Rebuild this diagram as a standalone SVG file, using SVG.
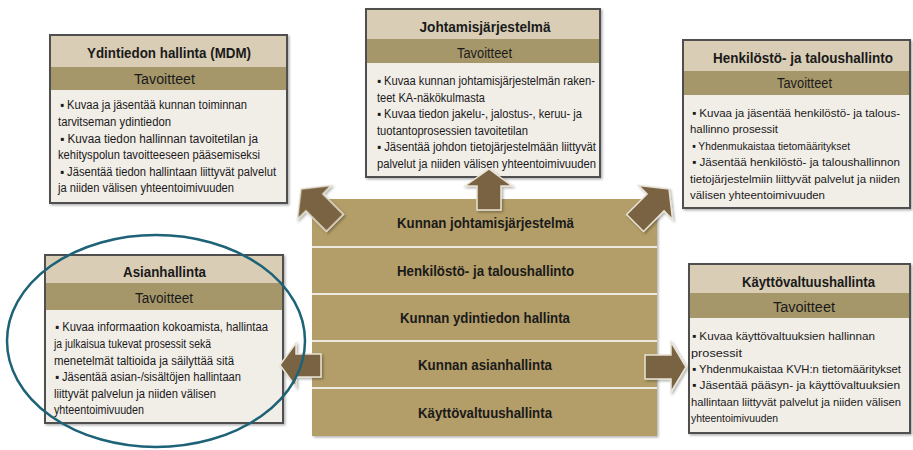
<svg xmlns="http://www.w3.org/2000/svg" width="913" height="450" viewBox="0 0 913 450">
<defs>
<filter id="sh" x="-10%" y="-10%" width="130%" height="130%"><feDropShadow dx="1.5" dy="1.5" stdDeviation="1.2" flood-color="#000" flood-opacity="0.3"/></filter>
<style>
text{font-family:"Liberation Sans Narrow","Liberation Sans",Arial,sans-serif;fill:#1a1a1a}
.ttl{font-size:15px;font-weight:bold;text-anchor:middle}
.tav{font-size:14px;text-anchor:middle}
.b{font-size:12.3px}
.bs{font-size:11.6px}
.row{font-size:15.5px;font-weight:bold;text-anchor:middle}
.frame{fill:#F1EDE7;stroke:#505050;stroke-width:2}
.hdr{fill:#D9CDB5}
.tbar{fill:#A6976A}
.stk{fill:#B39D68}
.sep{stroke:#EEE9DE;stroke-width:2}
.arr{fill:#7A6342;stroke:#E9E3D6;stroke-width:1.5;stroke-linejoin:miter}
</style>
</defs>
<rect width="913" height="450" fill="#fff"/>

<g id="stack">
<rect class="stk" x="312" y="199" width="345" height="237" filter="url(#sh)"/>
<line class="sep" x1="312" y1="247" x2="657" y2="247"/>
<line class="sep" x1="312" y1="294" x2="657" y2="294"/>
<line class="sep" x1="312" y1="341" x2="657" y2="341"/>
<line class="sep" x1="312" y1="388" x2="657" y2="388"/>
<text class="row" x="485.5" y="228" textLength="177" lengthAdjust="spacingAndGlyphs">Kunnan johtamisjärjestelmä</text>
<text class="row" x="485.5" y="276" textLength="177" lengthAdjust="spacingAndGlyphs">Henkilöstö- ja taloushallinto</text>
<text class="row" x="485" y="323" textLength="170" lengthAdjust="spacingAndGlyphs">Kunnan ydintiedon hallinta</text>
<text class="row" x="485" y="370" textLength="134" lengthAdjust="spacingAndGlyphs">Kunnan asianhallinta</text>
<text class="row" x="485" y="418" textLength="134" lengthAdjust="spacingAndGlyphs">Käyttövaltuushallinta</text>
</g>

<g id="box-mdm">
<rect class="frame" x="50" y="35" width="237" height="168" filter="url(#sh)"/>
<rect class="hdr" x="51" y="36" width="235" height="31"/>
<rect class="tbar" x="51" y="67" width="235" height="23"/>
<text class="ttl" x="169" y="58" textLength="164" lengthAdjust="spacingAndGlyphs">Ydintiedon hallinta (MDM)</text>
<text class="tav" x="164.5" y="83.5" textLength="61" lengthAdjust="spacingAndGlyphs">Tavoitteet</text>
<text class="b" x="60" y="109" textLength="187" lengthAdjust="spacingAndGlyphs">▪ Kuvaa ja jäsentää kunnan toiminnan</text>
<text class="b" x="58" y="126" textLength="113" lengthAdjust="spacingAndGlyphs">tarvitseman ydintiedon</text>
<text class="b" x="60" y="142.5" textLength="198" lengthAdjust="spacingAndGlyphs">▪ Kuvaa tiedon hallinnan tavoitetilan ja</text>
<text class="b" x="58" y="159" textLength="202" lengthAdjust="spacingAndGlyphs">kehityspolun tavoitteeseen pääsemiseksi</text>
<text class="b" x="60" y="175.5" textLength="216" lengthAdjust="spacingAndGlyphs">▪ Jäsentää tiedon hallintaan liittyvät palvelut</text>
<text class="b" x="58" y="192" textLength="176" lengthAdjust="spacingAndGlyphs">ja niiden välisen yhteentoimivuuden</text>
</g>

<g id="box-johtamis">
<rect class="frame" x="366" y="9" width="234" height="168" filter="url(#sh)"/>
<rect class="hdr" x="367" y="10" width="232" height="29"/>
<rect class="tbar" x="367" y="39" width="232" height="24"/>
<text class="ttl" x="485" y="32" textLength="131" lengthAdjust="spacingAndGlyphs">Johtamisjärjestelmä</text>
<text class="tav" x="484.5" y="57.5" textLength="55" lengthAdjust="spacingAndGlyphs">Tavoitteet</text>
<text class="b" x="377" y="85" textLength="218" lengthAdjust="spacingAndGlyphs">▪ Kuvaa kunnan johtamisjärjestelmän raken-</text>
<text class="b" x="377" y="101.5" textLength="108" lengthAdjust="spacingAndGlyphs">teet KA-näkökulmasta</text>
<text class="b" x="377" y="118" textLength="205" lengthAdjust="spacingAndGlyphs">▪ Kuvaa tiedon jakelu-, jalostus-, keruu- ja</text>
<text class="b" x="377" y="134.5" textLength="151" lengthAdjust="spacingAndGlyphs">tuotantoprosessien tavoitetilan</text>
<text class="b" x="377" y="151" textLength="219" lengthAdjust="spacingAndGlyphs">▪ Jäsentää johdon tietojärjestelmään liittyvät</text>
<text class="b" x="377" y="167.5" textLength="219" lengthAdjust="spacingAndGlyphs">palvelut ja niiden välisen yhteentoimivuuden</text>
</g>

<g id="box-henkilosto">
<rect class="frame" x="683" y="40" width="227" height="168" filter="url(#sh)"/>
<rect class="hdr" x="684" y="41" width="225" height="30"/>
<rect class="tbar" x="684" y="71" width="225" height="24"/>
<text class="ttl" x="803" y="63" textLength="180" lengthAdjust="spacingAndGlyphs">Henkilöstö- ja taloushallinto</text>
<text class="tav" x="804.5" y="88" textLength="55" lengthAdjust="spacingAndGlyphs">Tavoitteet</text>
<text class="bs" x="692" y="117" textLength="208" lengthAdjust="spacingAndGlyphs">▪ Kuvaa ja jäsentää henkilöstö- ja talous-</text>
<text class="bs" x="690" y="133" textLength="88" lengthAdjust="spacingAndGlyphs">hallinno prosessit</text>
<text class="bs" x="692" y="149.5" textLength="158" lengthAdjust="spacingAndGlyphs">▪ Yhdenmukaistaa tietomääritykset</text>
<text class="bs" x="692" y="166" textLength="208" lengthAdjust="spacingAndGlyphs">▪ Jäsentää henkilöstö- ja taloushallinnon</text>
<text class="bs" x="690" y="182.5" textLength="210" lengthAdjust="spacingAndGlyphs">tietojärjestelmiin liittyvät palvelut ja niiden</text>
<text class="bs" x="690" y="199" textLength="135" lengthAdjust="spacingAndGlyphs">välisen yhteentoimivuuden</text>
</g>

<g id="box-asianhallinta">
<rect class="frame" x="45" y="255" width="238" height="168" filter="url(#sh)"/>
<rect class="hdr" x="46" y="256" width="236" height="27"/>
<rect class="tbar" x="46" y="283" width="236" height="27"/>
<text class="ttl" x="164.5" y="277" textLength="83" lengthAdjust="spacingAndGlyphs">Asianhallinta</text>
<text class="tav" x="164" y="302.5" textLength="58" lengthAdjust="spacingAndGlyphs">Tavoitteet</text>
<text class="b" x="55" y="331" textLength="213" lengthAdjust="spacingAndGlyphs">▪ Kuvaa informaation kokoamista, hallintaa</text>
<text class="b" x="54" y="348" textLength="157" lengthAdjust="spacingAndGlyphs">ja julkaisua tukevat prosessit sekä</text>
<text class="b" x="54" y="364.5" textLength="180" lengthAdjust="spacingAndGlyphs">menetelmät taltioida ja säilyttää sitä</text>
<text class="b" x="55" y="381" textLength="186" lengthAdjust="spacingAndGlyphs">▪ Jäsentää asian-/sisältöjen hallintaan</text>
<text class="b" x="54" y="397.5" textLength="162" lengthAdjust="spacingAndGlyphs">liittyvät palvelun ja niiden välisen</text>
<text class="b" x="54" y="414" textLength="90" lengthAdjust="spacingAndGlyphs">yhteentoimivuuden</text>
</g>

<g id="box-kayttovaltuus">
<rect class="frame" x="689" y="264" width="221" height="169" filter="url(#sh)"/>
<rect class="hdr" x="690" y="265" width="219" height="28"/>
<rect class="tbar" x="690" y="293" width="219" height="25"/>
<text class="ttl" x="808.5" y="287" textLength="133" lengthAdjust="spacingAndGlyphs">Käyttövaltuushallinta</text>
<text class="tav" x="804" y="311.5" textLength="62" lengthAdjust="spacingAndGlyphs">Tavoitteet</text>
<text class="bs" x="692" y="340" textLength="183" lengthAdjust="spacingAndGlyphs">▪ Kuvaa käyttövaltuuksien hallinnan</text>
<text class="bs" x="691" y="356.5" textLength="51" lengthAdjust="spacingAndGlyphs">prosessit</text>
<text class="bs" x="692" y="373" textLength="209" lengthAdjust="spacingAndGlyphs">▪ Yhdenmukaistaa KVH:n tietomääritykset</text>
<text class="bs" x="692" y="389" textLength="208" lengthAdjust="spacingAndGlyphs">▪ Jäsentää pääsyn- ja käyttövaltuuksien</text>
<text class="bs" x="691" y="405.5" textLength="210" lengthAdjust="spacingAndGlyphs">hallintaan liittyvät palvelut ja niiden välisen</text>
<text class="bs" x="691" y="422" textLength="87" lengthAdjust="spacingAndGlyphs">yhteentoimivuuden</text>
</g>

<g id="connectors" filter="url(#sh)">
<path class="arr" d="M489,169 L512,186 L501,186 L501,210 L477,210 L477,186 L465,186 Z"/>
<path class="arr" transform="translate(301,189) rotate(-45)" d="M0,0 L24,19 L12,19 L12,48 L-12,48 L-12,19 L-24,19 Z"/>
<path class="arr" transform="translate(669,189) rotate(45)" d="M0,0 L24,19 L12,19 L12,48 L-12,48 L-12,19 L-24,19 Z"/>
<path class="arr" d="M280,365 L296,343 L296,354 L321,354 L321,377 L296,377 L296,387 Z"/>
<path class="arr" d="M686,367 L671,342 L671,355 L645,355 L645,379 L671,379 L671,392 Z"/>
</g>

<ellipse id="highlight" cx="156" cy="341" rx="149" ry="106" fill="none" stroke="#1D6277" stroke-width="2.5"/>
</svg>
